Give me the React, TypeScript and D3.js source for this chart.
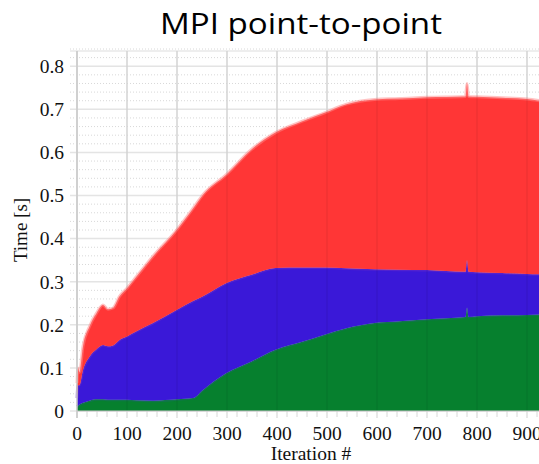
import React from 'react';
import * as d3 from 'd3';

// ─── Data ────────────────────────────────────────────────────────────────────
const iterations = [0, 2, 5, 12, 25, 39, 52, 62, 72, 85, 100, 119, 152, 200, 232, 252, 299, 349, 397, 452, 495, 539, 595, 645, 700, 777, 780, 783, 800, 850, 900, 925];
// per-series time [s], stacked bottom → top
const greenSeries = [0.010, 0.012, 0.015, 0.019, 0.024, 0.027, 0.027, 0.026, 0.026, 0.026, 0.026, 0.025, 0.024, 0.027, 0.030, 0.049, 0.088, 0.115, 0.142, 0.161, 0.177, 0.192, 0.204, 0.208, 0.213, 0.218, 0.240, 0.218, 0.220, 0.222, 0.223, 0.224];
const blueSeries = [0.020, 0.048, 0.045, 0.076, 0.102, 0.116, 0.126, 0.124, 0.126, 0.139, 0.147, 0.160, 0.180, 0.208, 0.225, 0.217, 0.209, 0.201, 0.190, 0.172, 0.156, 0.139, 0.125, 0.120, 0.114, 0.105, 0.110, 0.105, 0.102, 0.098, 0.095, 0.093];
const redSeries = [0.035, 0.040, 0.030, 0.055, 0.070, 0.084, 0.093, 0.086, 0.087, 0.101, 0.112, 0.127, 0.155, 0.186, 0.215, 0.236, 0.252, 0.291, 0.314, 0.340, 0.359, 0.381, 0.394, 0.397, 0.401, 0.407, 0.410, 0.407, 0.407, 0.407, 0.406, 0.403];

const SERIES = ['green', 'blue', 'red'];
const COLORS: Record<string, string> = { green: '#06802e', blue: '#3a18d8', red: '#ff3636' };
const FUZZ: Record<string, string> = { green: '#1b6a6a', blue: '#6a2cc8', red: '#ff8a8a' };

const xTicks = [0, 100, 200, 300, 400, 500, 600, 700, 800, 900];
const yTicks = [0, 0.1, 0.2, 0.3, 0.4, 0.5, 0.6, 0.7, 0.8];

const W = 539, H = 464;
const M = { left: 77, top: 49, bottom: 411 };

export default function App() {
  const rows = iterations.map((it, i) => ({ it, green: greenSeries[i], blue: blueSeries[i], red: redSeries[i] }));
  const stack = d3.stack<any>().keys(SERIES)(rows);

  const x = d3.scaleLinear().domain([0, 925]).range([M.left, M.left + 462.5]);
  const y = d3.scaleLinear().domain([0, 0.84]).range([M.bottom, M.top]);

  const area = d3.area<any>().curve(d3.curveMonotoneX).x(d => x(d.data.it)).y0(d => y(d[0])).y1(d => y(d[1]));
  const topLine = d3.line<any>().curve(d3.curveMonotoneX).x(d => x(d.data.it)).y(d => y(d[1]));

  const minorY = d3.range(0, 0.841, 0.02).filter(v => Math.abs(Math.round(v * 10) - v * 10) > 0.01);
  const minorX = d3.range(0, 926, 20).filter(v => v % 100 !== 0);
  const serif = { fontFamily: "'Liberation Serif', 'Times New Roman', Times, serif" };

  return (
    <svg width={W} height={H} style={{ position: 'absolute', left: 0, top: 0, background: '#fff' }}>
      {/* Title */}
      <text x={301} y={34} textAnchor="middle" style={{ fontFamily: "'Open Sans', sans-serif" }} fontSize={29}
        textLength={282} lengthAdjust="spacingAndGlyphs" fill="#000">MPI point-to-point</text>

      {/* Horizontal grid */}
      {minorY.map(v => (
        <line key={'my' + v} x1={70} x2={W} y1={y(v)} y2={y(v)} stroke="#d8d8d8" strokeWidth={1} strokeDasharray="1,2" />
      ))}
      {yTicks.map(v => (
        <line key={'y' + v} x1={70} x2={W} y1={y(v)} y2={y(v)} stroke="#e4e4e4" strokeWidth={1.5} />
      ))}
      <line x1={70} x2={W} y1={51} y2={51} stroke="#e8e8e8" strokeWidth={1.5} />
      {xTicks.map(v => (
        <line key={'xg' + v} x1={x(v)} x2={x(v)} y1={51} y2={418} stroke="#e0e0e0" strokeWidth={1.5} />
      ))}
      {minorX.map(v => (
        <line key={'mx' + v} x1={x(v)} x2={x(v)} y1={411} y2={417} stroke="#d8d8d8" strokeWidth={1} />
      ))}

      {/* Stacked areas */}
      {stack.map(s => (
        <g key={s.key}>
          <path d={area(s) ?? ''} fill={COLORS[s.key]} />
          <path d={topLine(s) ?? ''} fill="none" stroke={FUZZ[s.key]} strokeWidth={3} strokeOpacity={0.5} />
        </g>
      ))}

      {/* Vertical grid over the fill */}
      {xTicks.slice(1).map(v => (
        <line key={'xo' + v} x1={x(v)} x2={x(v)} y1={51} y2={411} stroke="#000" strokeOpacity={0.06} strokeWidth={1.5} />
      ))}

      {/* Axes */}
      <line x1={M.left} x2={M.left} y1={51} y2={418} stroke="#c8c8c8" strokeWidth={1.5} />
      <line x1={M.left} x2={W} y1={411} y2={411} stroke="#c8c8c8" strokeWidth={1} />

      {yTicks.map(v => (
        <text key={'yl' + v} x={64} y={y(v)} dy="0.35em" textAnchor="end" style={serif} fontSize={19.5} fill="#111">
          {v === 0 ? '0' : d3.format('.1f')(v)}
        </text>
      ))}
      {xTicks.map(v => (
        <text key={'xl' + v} x={x(v)} y={440} textAnchor="middle" style={serif} fontSize={19.5} fill="#111">{v}</text>
      ))}

      <text x={311} y={460} textAnchor="middle" style={serif} fontSize={19.5} fill="#111">Iteration #</text>
      <text transform="translate(27,230) rotate(-90)" textAnchor="middle" style={serif} fontSize={19} fill="#111">Time [s]</text>
    </svg>
  );
}
